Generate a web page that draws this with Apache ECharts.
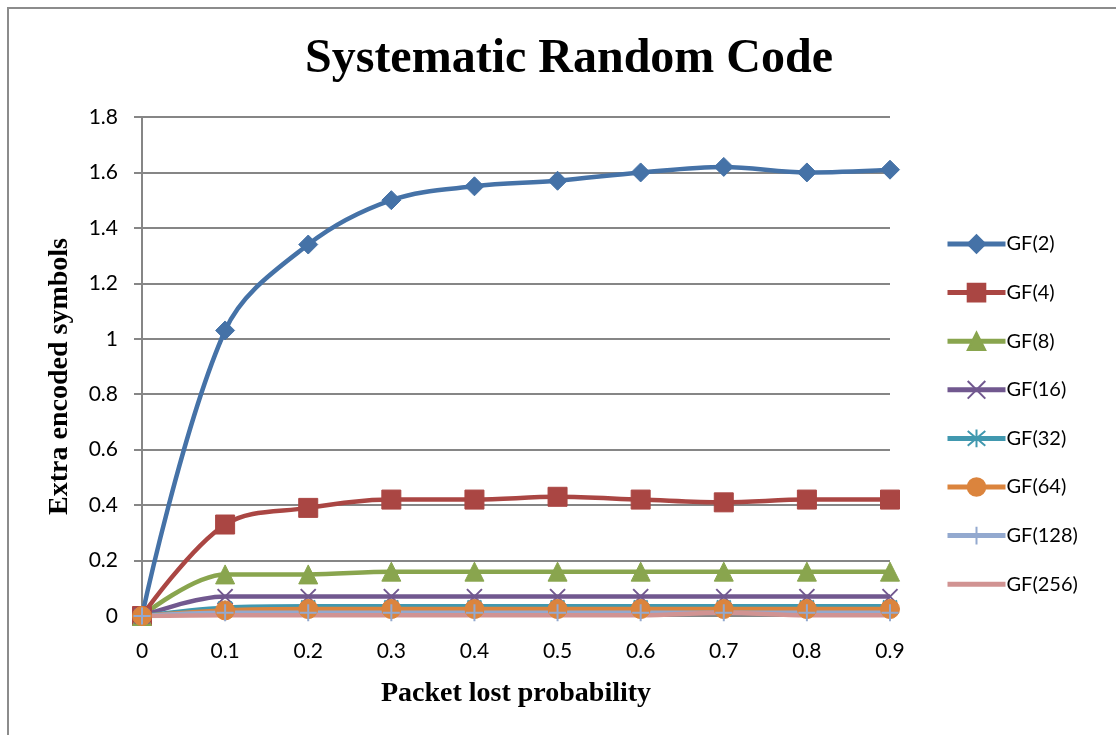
<!DOCTYPE html>
<html>
<head>
<meta charset="utf-8">
<script src="https://cdn.jsdelivr.net/npm/echarts@6/dist/echarts.min.js"></script>
<style>
html,body{margin:0;padding:0;background:#fff;}
#chart{width:1116px;height:735px;}
</style>
</head>
<body>
<div id="chart"></div>
<script>
const categories = ['0','0.1','0.2','0.3','0.4','0.5','0.6','0.7','0.8','0.9'];
const seriesNames = ['GF(2)','GF(4)','GF(8)','GF(16)','GF(32)','GF(64)','GF(128)','GF(256)'];
const gf2   = [0, 1.03, 1.34, 1.50, 1.55, 1.57, 1.60, 1.62, 1.60, 1.61];
const gf4   = [0, 0.33, 0.39, 0.42, 0.42, 0.43, 0.42, 0.41, 0.42, 0.42];
const gf8   = [0, 0.15, 0.15, 0.16, 0.16, 0.16, 0.16, 0.16, 0.16, 0.16];
const gf16  = [0, 0.07, 0.07, 0.07, 0.07, 0.07, 0.07, 0.07, 0.07, 0.07];
const gf32  = [0, 0.03, 0.035, 0.035, 0.035, 0.035, 0.035, 0.035, 0.035, 0.035];
const gf64  = [0, 0.02, 0.025, 0.025, 0.025, 0.025, 0.025, 0.025, 0.025, 0.025];
const gf128 = [0, 0.012, 0.012, 0.012, 0.012, 0.012, 0.012, 0.012, 0.012, 0.012];
const gf256 = [0, 0.003, 0.003, 0.003, 0.003, 0.003, 0.003, 0.012, 0.003, 0.003];
const yTicks = { min: 0, max: 1.8, interval: 0.2 };

const values = [gf2, gf4, gf8, gf16, gf32, gf64, gf128, gf256];
const colors = ['#4572A7','#AA4643','#89A54E','#71588F','#4198AF','#DB843D','#93A9CF','#D19392'];
const xPath = 'path://M0,0 L10,10 M10,0 L0,10';
const starPath = 'path://M0,0 L10,10 M10,0 L0,10 M5,-1 L5,11';
const plusPath = 'path://M5,0 L5,10 M0,5 L10,5';
const markers = [
  {symbol:'diamond', size:19, stroke:false},
  {symbol:'rect', size:19, stroke:false},
  {symbol:'triangle', size:19, stroke:false},
  {symbol:xPath, size:15, stroke:true},
  {symbol:starPath, size:14, stroke:true},
  {symbol:'circle', size:19, stroke:false},
  {symbol:plusPath, size:17, stroke:true},
  {symbol:'circle', size:0, stroke:false, hidden:true}
];

const series = seriesNames.map((name, i) => {
  const m = markers[i];
  return {
    name: name,
    type: 'line',
    data: values[i],
    smooth: 0.35,
    color: colors[i],
    symbol: m.symbol,
    symbolSize: m.size,
    showSymbol: !m.hidden,
    lineStyle: { color: colors[i], width: 4.5 },
    itemStyle: m.hidden
      ? { color: 'rgba(0,0,0,0)', borderWidth: 0 }
      : m.stroke
        ? { color: 'rgba(0,0,0,0)', borderColor: colors[i], borderWidth: 2 }
        : { color: colors[i], borderColor: colors[i], borderWidth: 1 },
    emphasis: { disabled: true },
    animation: false
  };
});

const chart = echarts.init(document.getElementById('chart'));
chart.setOption({
  backgroundColor: '#fff',
  animation: false,
  graphic: [{
    type: 'rect',
    shape: { x: 8, y: 8, width: 1200, height: 800 },
    style: { fill: 'none', stroke: '#8c8c8c', lineWidth: 2 },
    z: -1
  }],
  title: {
    text: 'Systematic Random Code',
    left: 564, top: 31, textAlign: 'center',
    textStyle: { fontFamily: 'Liberation Serif', fontWeight: 'bold', fontSize: 48, color: '#000' }
  },
  legend: {
    orient: 'vertical',
    left: 940, top: 229,
    itemWidth: 58, itemHeight: 22,
    itemGap: 28.6,
    lineStyle: { width: 5 },
    textStyle: { fontFamily: 'Lato', fontSize: 20, color: '#000', padding: [0,0,0,-4] },
    data: seriesNames
  },
  grid: { left: 142, right: 226, top: 117, bottom: 119, containLabel: false },
  xAxis: {
    type: 'category',
    data: categories,
    boundaryGap: false,
    name: 'Packet lost probability',
    nameLocation: 'middle',
    nameGap: 64,
    nameTextStyle: { fontFamily: 'Liberation Serif', fontWeight: 'bold', fontSize: 28, color: '#000' },
    axisLine: { show: true, lineStyle: { color: '#868686', width: 2 } },
    axisTick: { show: false },
    axisLabel: { fontFamily: 'Lato', fontSize: 21, color: '#000', margin: 25 },
    splitLine: { show: false }
  },
  yAxis: {
    type: 'value',
    min: yTicks.min, max: yTicks.max, interval: yTicks.interval,
    name: 'Extra encoded symbols',
    nameLocation: 'middle',
    nameGap: 68,
    nameTextStyle: { fontFamily: 'Liberation Serif', fontWeight: 'bold', fontSize: 28, color: '#000', padding: [0, 20, 0, 0] },
    axisLine: { show: true, lineStyle: { color: '#868686', width: 2 } },
    axisTick: { show: true, length: 8, lineStyle: { color: '#868686', width: 2 } },
    axisLabel: { fontFamily: 'Lato', fontSize: 21, color: '#000', margin: 24 },
    splitLine: { show: true, lineStyle: { color: '#868686', width: 2 } }
  },
  series: series
});
</script>
</body>
</html>
